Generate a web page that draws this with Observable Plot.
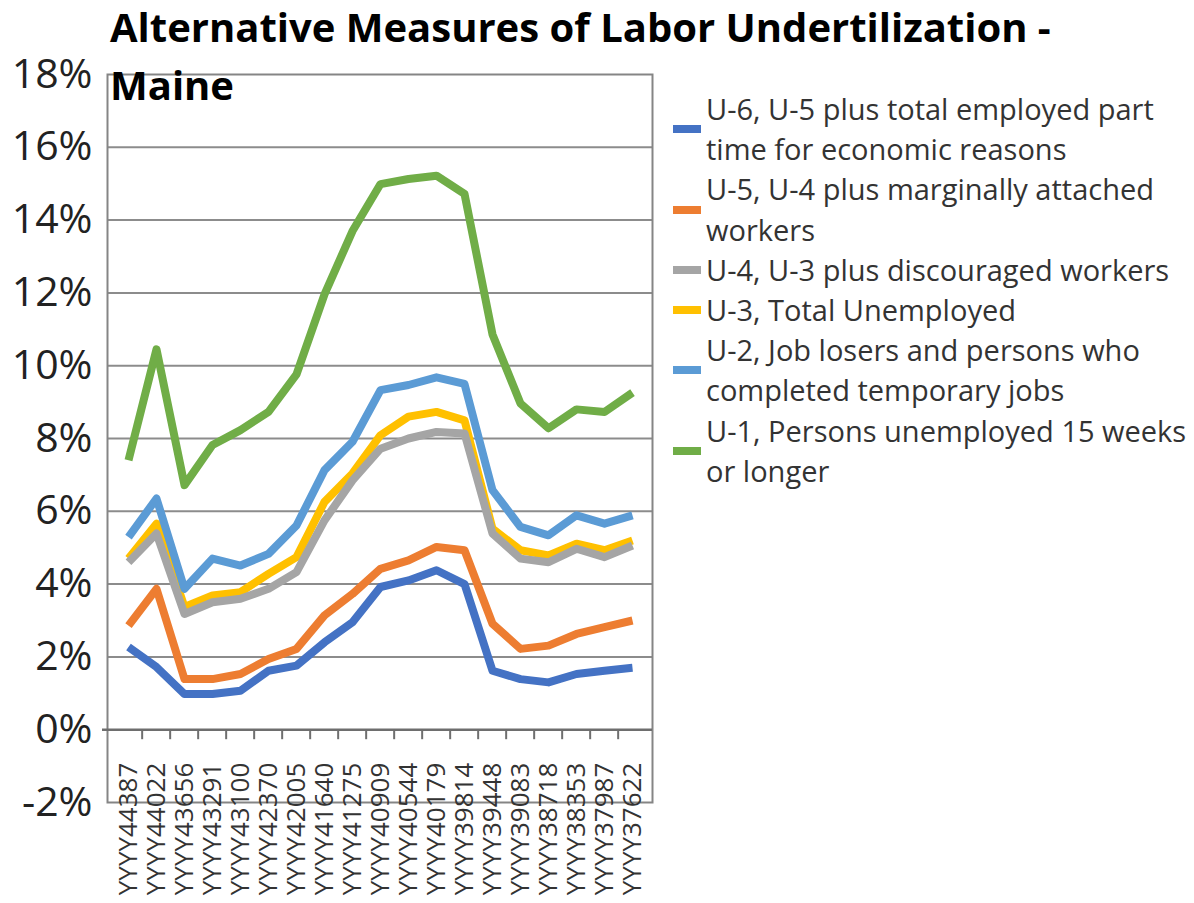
<!DOCTYPE html>
<html>
<head>
<meta charset="utf-8">
<script src="https://cdn.jsdelivr.net/npm/d3@7"></script>
<script src="https://cdn.jsdelivr.net/npm/@observablehq/plot@0.6"></script>
<style>
  body { margin: 0; background: #fff; }
  #wrap { position: relative; width: 1194px; height: 903px; overflow: hidden; font-family: "Open Sans", sans-serif; background: #fff; }
  #chart { position: absolute; left: 0; top: 0; }
  .tl { position: absolute; left: 110px; font-weight: 700; font-size: 40px; line-height: 50px; color: #000; white-space: nowrap; }
  #legend { position: absolute; left: 673px; top: 89px; font-size: 29px; line-height: 40.2px; color: #333; }
  .item { display: flex; align-items: center; }
  .sw { width: 28px; height: 8px; margin-right: 5px; flex: none; }
  .lab { white-space: pre; }
</style>
</head>
<body>
<div id="wrap">
  <div id="chart"></div>
  <div id="title1" class="tl" style="top:1.5px"></div>
  <div id="title2" class="tl" style="top:59.5px"></div>
  <div id="legend"></div>
</div>
<script>
// ---- data ----
const titleLines = ["Alternative Measures of Labor Undertilization -", "Maine"];
const categories = ["YYYY44387","YYYY44022","YYYY43656","YYYY43291","YYYY43100","YYYY42370","YYYY42005","YYYY41640","YYYY41275","YYYY40909","YYYY40544","YYYY40179","YYYY39814","YYYY39448","YYYY39083","YYYY38718","YYYY38353","YYYY37987","YYYY37622"];
const seriesNames = ["U-6","U-5","U-4","U-3","U-2","U-1"];
const legendLabels = [
  "U-6, U-5 plus total employed part\ntime for economic reasons",
  "U-5, U-4 plus marginally attached\nworkers",
  "U-4, U-3 plus discouraged workers",
  "U-3, Total Unemployed",
  "U-2, Job losers and persons who\ncompleted temporary jobs",
  "U-1, Persons unemployed 15 weeks\nor longer"
];
const seriesColors = ["#4472C4","#ED7D31","#A5A5A5","#FFC000","#5B9BD5","#70AD47"];
const u6 = [2.27,1.72,0.98,0.98,1.07,1.62,1.76,2.40,2.95,3.92,4.10,4.38,4.00,1.62,1.39,1.30,1.53,1.62,1.70];
const u5 = [2.86,3.87,1.39,1.39,1.53,1.94,2.22,3.14,3.73,4.42,4.65,5.02,4.93,2.91,2.22,2.31,2.63,2.82,3.00];
const u4 = [4.60,5.39,3.18,3.50,3.60,3.87,4.33,5.75,6.85,7.72,8.00,8.18,8.14,5.39,4.70,4.60,4.97,4.74,5.06];
const u3 = [4.70,5.66,3.37,3.69,3.78,4.28,4.74,6.26,7.04,8.09,8.60,8.73,8.50,5.52,4.93,4.79,5.11,4.93,5.20];
const u2 = [5.29,6.35,3.87,4.70,4.51,4.83,5.61,7.13,7.91,9.33,9.47,9.68,9.50,6.58,5.57,5.34,5.89,5.66,5.89];
const u1 = [7.40,10.45,6.72,7.82,8.23,8.73,9.76,11.96,13.70,14.99,15.13,15.22,14.72,10.86,8.96,8.28,8.80,8.73,9.26];
const yTicks = [-2,0,2,4,6,8,10,12,14,16,18];

// ---- build ----
const valuesBySeries = {"U-6": u6, "U-5": u5, "U-4": u4, "U-3": u3, "U-2": u2, "U-1": u1};
const drawOrder = ["U-6","U-5","U-3","U-4","U-2","U-1"];
const rows = [];
for (const s of drawOrder) valuesBySeries[s].forEach((v, i) => rows.push({series: s, cat: categories[i], value: v}));

const W = 1194, H = 903, mL = 107, mR = 542, mT = 74, mB = 101;
const step = (W - mL - mR) / categories.length;

const chart = Plot.plot({
  width: W, height: H,
  marginLeft: mL, marginRight: mR, marginTop: mT, marginBottom: mB,
  style: {fontFamily: "'Open Sans', sans-serif", background: "transparent", overflow: "visible"},
  x: {type: "point", domain: categories, padding: 0.5, axis: null},
  y: {domain: [-2, 18]},
  color: {domain: seriesNames, range: seriesColors},
  marks: [
    Plot.ruleY(yTicks.filter(v => v > -2 && v < 18 && v !== 0), {stroke: "#8c8c8c", strokeWidth: 2}),
    Plot.frame({stroke: "#858585", strokeWidth: 2}),
    Plot.ruleY([0], {stroke: "#6e6e6e", strokeWidth: 2.5, insetLeft: -5}),
    Plot.ruleX(categories.slice(1), {x: d => d, y1: 0, y2: 0, dx: -step / 2, insetBottom: -10, stroke: "#6e6e6e", strokeWidth: 2}),
    Plot.line(rows, {x: "cat", y: "value", z: "series", stroke: "series", strokeWidth: 8, strokeLinejoin: "round", strokeLinecap: "butt"}),
    Plot.text(categories, {x: d => d, y: 0, rotate: -90, textAnchor: "end", dy: 33, fontSize: 26, fill: "#333"}),
    Plot.axisY({ticks: yTicks, tickSize: 0, tickPadding: 15, fontSize: 41, tickFormat: d => d + "%", fill: "#222", label: null})
  ]
});
document.getElementById("chart").appendChild(chart);

document.getElementById("title1").textContent = titleLines[0];
document.getElementById("title2").textContent = titleLines[1];

const legend = document.getElementById("legend");
legendLabels.forEach((lab, i) => {
  const item = document.createElement("div");
  item.className = "item";
  const sw = document.createElement("div");
  sw.className = "sw";
  sw.style.background = seriesColors[i];
  const t = document.createElement("div");
  t.className = "lab";
  t.textContent = lab;
  item.appendChild(sw);
  item.appendChild(t);
  legend.appendChild(item);
});
</script>
</body>
</html>
